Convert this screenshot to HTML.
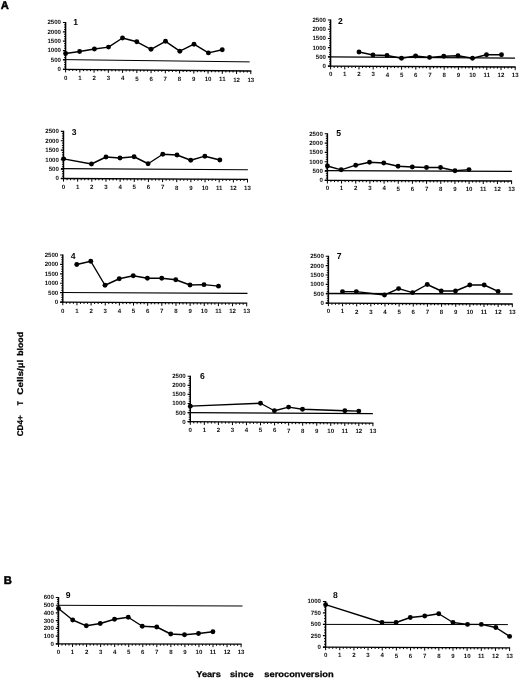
<!DOCTYPE html>
<html lang="en"><head><meta charset="utf-8"><title>CD4+ T cells per µl blood vs years since seroconversion</title>
<style>html,body{margin:0;padding:0;background:#fff}body{width:520px;height:679px;overflow:hidden}svg text{font-family:"Liberation Sans", sans-serif}</style>
</head><body>
<svg width="520" height="679" viewBox="0 0 520 679" style="display:block" text-rendering="geometricPrecision" font-family='"Liberation Sans", sans-serif' fill="#000">
<rect width="520" height="679" fill="#fff"/>
<g filter="url(#soft)">
<g><path d="M65.6 22V69.9" stroke="#000" stroke-width="1.45" fill="none"/><path d="M63 69.28L251.3 71" stroke="#000" stroke-width="1.3" fill="none"/><path d="M62.9 69.3H65.6M62.9 59.94H65.6M62.9 50.58H65.6M62.9 41.22H65.6M62.9 31.86H65.6M62.9 22.5H65.6" stroke="#000" stroke-width="1.2" fill="none"/><path d="M64 66.96H65.6M64 64.62H65.6M64 62.28H65.6M64 57.6H65.6M64 55.26H65.6M64 52.92H65.6M64 48.24H65.6M64 45.9H65.6M64 43.56H65.6M64 38.88H65.6M64 36.54H65.6M64 34.2H65.6M64 29.52H65.6M64 27.18H65.6M64 24.84H65.6" stroke="#000" stroke-width="0.9" fill="none"/><path d="M65.6 69.3v3.1M69.16 69.3v1.7M72.72 69.3v1.7M76.28 69.3v1.7M79.85 69.43v3.1M83.41 69.43v1.7M86.97 69.43v1.7M90.53 69.43v1.7M94.09 69.56v3.1M97.65 69.56v1.7M101.22 69.56v1.7M104.78 69.56v1.7M108.34 69.69v3.1M111.9 69.69v1.7M115.46 69.69v1.7M119.02 69.69v1.7M122.58 69.82v3.1M126.15 69.82v1.7M129.71 69.82v1.7M133.27 69.82v1.7M136.83 69.95v3.1M140.39 69.95v1.7M143.95 69.95v1.7M147.52 69.95v1.7M151.08 70.08v3.1M154.64 70.08v1.7M158.2 70.08v1.7M161.76 70.08v1.7M165.32 70.22v3.1M168.88 70.22v1.7M172.45 70.22v1.7M176.01 70.22v1.7M179.57 70.35v3.1M183.13 70.35v1.7M186.69 70.35v1.7M190.25 70.35v1.7M193.82 70.48v3.1M197.38 70.48v1.7M200.94 70.48v1.7M204.5 70.48v1.7M208.06 70.61v3.1M211.62 70.61v1.7M215.18 70.61v1.7M218.75 70.61v1.7M222.31 70.74v3.1M225.87 70.74v1.7M229.43 70.74v1.7M232.99 70.74v1.7M236.55 70.87v3.1M240.12 70.87v1.7M243.68 70.87v1.7M247.24 70.87v1.7M250.8 71v3.1" stroke="#000" stroke-width="1" fill="none"/><path d="M63.2 59.6L249.7 61.9" stroke="#000" stroke-width="1.0" fill="none"/><polyline points="65.6,53.5 79.6,51.5 94.4,49 108.5,47.1 122.5,38 136.8,41.8 151,49.3 165.5,41.3 179.8,51.2 194,44.2 208.4,52.9 222.25,49.75" stroke="#000" stroke-width="1.4" fill="none" stroke-linejoin="round"/><circle cx="65.6" cy="53.5" r="2.45"/><circle cx="79.6" cy="51.5" r="2.45"/><circle cx="94.4" cy="49" r="2.45"/><circle cx="108.5" cy="47.1" r="2.45"/><circle cx="122.5" cy="38" r="2.45"/><circle cx="136.8" cy="41.8" r="2.45"/><circle cx="151" cy="49.3" r="2.45"/><circle cx="165.5" cy="41.3" r="2.45"/><circle cx="179.8" cy="51.2" r="2.45"/><circle cx="194" cy="44.2" r="2.45"/><circle cx="208.4" cy="52.9" r="2.45"/><circle cx="222.25" cy="49.75" r="2.45"/><g font-weight="bold" fill="#111"><text transform="translate(61 71.2) scale(0.610)" font-size="10" text-anchor="end">0</text><text transform="translate(61 61.84) scale(0.610)" font-size="10" text-anchor="end">500</text><text transform="translate(61 52.48) scale(0.610)" font-size="10" text-anchor="end">1000</text><text transform="translate(61 43.12) scale(0.610)" font-size="10" text-anchor="end">1500</text><text transform="translate(61 33.76) scale(0.610)" font-size="10" text-anchor="end">2000</text><text transform="translate(61 24.4) scale(0.610)" font-size="10" text-anchor="end">2500</text><text transform="translate(65.6 79.9) scale(0.610)" font-size="10" text-anchor="middle">0</text><text transform="translate(79.85 80.04) scale(0.610)" font-size="10" text-anchor="middle">1</text><text transform="translate(94.09 80.18) scale(0.610)" font-size="10" text-anchor="middle">2</text><text transform="translate(108.34 80.32) scale(0.610)" font-size="10" text-anchor="middle">3</text><text transform="translate(122.58 80.45) scale(0.610)" font-size="10" text-anchor="middle">4</text><text transform="translate(136.83 80.59) scale(0.610)" font-size="10" text-anchor="middle">5</text><text transform="translate(151.08 80.73) scale(0.610)" font-size="10" text-anchor="middle">6</text><text transform="translate(165.32 80.87) scale(0.610)" font-size="10" text-anchor="middle">7</text><text transform="translate(179.57 81.01) scale(0.610)" font-size="10" text-anchor="middle">8</text><text transform="translate(193.82 81.15) scale(0.610)" font-size="10" text-anchor="middle">9</text><text transform="translate(208.06 81.28) scale(0.610)" font-size="10" text-anchor="middle">10</text><text transform="translate(222.31 81.42) scale(0.610)" font-size="10" text-anchor="middle">11</text><text transform="translate(236.55 81.56) scale(0.610)" font-size="10" text-anchor="middle">12</text><text transform="translate(250.8 81.7) scale(0.610)" font-size="10" text-anchor="middle">13</text></g><text transform="translate(73.2 25.2) scale(0.860)" font-size="10" text-anchor="start" font-weight="bold">1</text></g>
<g><path d="M330.6 19.5V66.8" stroke="#000" stroke-width="1.45" fill="none"/><path d="M328 66.19L515.7 67" stroke="#000" stroke-width="1.3" fill="none"/><path d="M327.9 66.2H330.6M327.9 56.96H330.6M327.9 47.72H330.6M327.9 38.48H330.6M327.9 29.24H330.6M327.9 20H330.6" stroke="#000" stroke-width="1.2" fill="none"/><path d="M329 63.89H330.6M329 61.58H330.6M329 59.27H330.6M329 54.65H330.6M329 52.34H330.6M329 50.03H330.6M329 45.41H330.6M329 43.1H330.6M329 40.79H330.6M329 36.17H330.6M329 33.86H330.6M329 31.55H330.6M329 26.93H330.6M329 24.62H330.6M329 22.31H330.6" stroke="#000" stroke-width="0.9" fill="none"/><path d="M330.6 66.2v3.1M334.15 66.2v1.7M337.7 66.2v1.7M341.25 66.2v1.7M344.8 66.26v3.1M348.35 66.26v1.7M351.9 66.26v1.7M355.45 66.26v1.7M359 66.32v3.1M362.55 66.32v1.7M366.1 66.32v1.7M369.65 66.32v1.7M373.2 66.38v3.1M376.75 66.38v1.7M380.3 66.38v1.7M383.85 66.38v1.7M387.4 66.45v3.1M390.95 66.45v1.7M394.5 66.45v1.7M398.05 66.45v1.7M401.6 66.51v3.1M405.15 66.51v1.7M408.7 66.51v1.7M412.25 66.51v1.7M415.8 66.57v3.1M419.35 66.57v1.7M422.9 66.57v1.7M426.45 66.57v1.7M430 66.63v3.1M433.55 66.63v1.7M437.1 66.63v1.7M440.65 66.63v1.7M444.2 66.69v3.1M447.75 66.69v1.7M451.3 66.69v1.7M454.85 66.69v1.7M458.4 66.75v3.1M461.95 66.75v1.7M465.5 66.75v1.7M469.05 66.75v1.7M472.6 66.82v3.1M476.15 66.82v1.7M479.7 66.82v1.7M483.25 66.82v1.7M486.8 66.88v3.1M490.35 66.88v1.7M493.9 66.88v1.7M497.45 66.88v1.7M501 66.94v3.1M504.55 66.94v1.7M508.1 66.94v1.7M511.65 66.94v1.7M515.2 67v3.1" stroke="#000" stroke-width="1" fill="none"/><path d="M328.2 56.8L515 58.1" stroke="#000" stroke-width="1.3" fill="none"/><polyline points="359,52 373,55 387,55.5 401.5,58.25 415.6,56 429.5,57.4 443.75,56.25 458,55.75 472.5,58.25 486.5,54.7 501.5,54.7" stroke="#000" stroke-width="1.4" fill="none" stroke-linejoin="round"/><circle cx="359" cy="52" r="2.45"/><circle cx="373" cy="55" r="2.45"/><circle cx="387" cy="55.5" r="2.45"/><circle cx="401.5" cy="58.25" r="2.45"/><circle cx="415.6" cy="56" r="2.45"/><circle cx="429.5" cy="57.4" r="2.45"/><circle cx="443.75" cy="56.25" r="2.45"/><circle cx="458" cy="55.75" r="2.45"/><circle cx="472.5" cy="58.25" r="2.45"/><circle cx="486.5" cy="54.7" r="2.45"/><circle cx="501.5" cy="54.7" r="2.45"/><g font-weight="bold" fill="#111"><text transform="translate(326 68.1) scale(0.610)" font-size="10" text-anchor="end">0</text><text transform="translate(326 58.86) scale(0.610)" font-size="10" text-anchor="end">500</text><text transform="translate(326 49.62) scale(0.610)" font-size="10" text-anchor="end">1000</text><text transform="translate(326 40.38) scale(0.610)" font-size="10" text-anchor="end">1500</text><text transform="translate(326 31.14) scale(0.610)" font-size="10" text-anchor="end">2000</text><text transform="translate(326 21.9) scale(0.610)" font-size="10" text-anchor="end">2500</text><text transform="translate(330.6 76.4) scale(0.610)" font-size="10" text-anchor="middle">0</text><text transform="translate(344.8 76.43) scale(0.610)" font-size="10" text-anchor="middle">1</text><text transform="translate(359 76.46) scale(0.610)" font-size="10" text-anchor="middle">2</text><text transform="translate(373.2 76.49) scale(0.610)" font-size="10" text-anchor="middle">3</text><text transform="translate(387.4 76.52) scale(0.610)" font-size="10" text-anchor="middle">4</text><text transform="translate(401.6 76.55) scale(0.610)" font-size="10" text-anchor="middle">5</text><text transform="translate(415.8 76.58) scale(0.610)" font-size="10" text-anchor="middle">6</text><text transform="translate(430 76.62) scale(0.610)" font-size="10" text-anchor="middle">7</text><text transform="translate(444.2 76.65) scale(0.610)" font-size="10" text-anchor="middle">8</text><text transform="translate(458.4 76.68) scale(0.610)" font-size="10" text-anchor="middle">9</text><text transform="translate(472.6 76.71) scale(0.610)" font-size="10" text-anchor="middle">10</text><text transform="translate(486.8 76.74) scale(0.610)" font-size="10" text-anchor="middle">11</text><text transform="translate(501 76.77) scale(0.610)" font-size="10" text-anchor="middle">12</text><text transform="translate(515.2 76.8) scale(0.610)" font-size="10" text-anchor="middle">13</text></g><text transform="translate(338 23.9) scale(0.860)" font-size="10" text-anchor="start" font-weight="bold">2</text></g>
<g><path d="M63.5 130.8V179.1" stroke="#000" stroke-width="1.45" fill="none"/><path d="M60.9 178.49L248 179.4" stroke="#000" stroke-width="1.3" fill="none"/><path d="M60.8 178.5H63.5M60.8 169.06H63.5M60.8 159.62H63.5M60.8 150.18H63.5M60.8 140.74H63.5M60.8 131.3H63.5" stroke="#000" stroke-width="1.2" fill="none"/><path d="M61.9 176.14H63.5M61.9 173.78H63.5M61.9 171.42H63.5M61.9 166.7H63.5M61.9 164.34H63.5M61.9 161.98H63.5M61.9 157.26H63.5M61.9 154.9H63.5M61.9 152.54H63.5M61.9 147.82H63.5M61.9 145.46H63.5M61.9 143.1H63.5M61.9 138.38H63.5M61.9 136.02H63.5M61.9 133.66H63.5" stroke="#000" stroke-width="0.9" fill="none"/><path d="M63.5 178.5v3.1M67.04 178.5v1.7M70.58 178.5v1.7M74.12 178.5v1.7M77.65 178.57v3.1M81.19 178.57v1.7M84.73 178.57v1.7M88.27 178.57v1.7M91.81 178.64v3.1M95.35 178.64v1.7M98.88 178.64v1.7M102.42 178.64v1.7M105.96 178.71v3.1M109.5 178.71v1.7M113.04 178.71v1.7M116.58 178.71v1.7M120.12 178.78v3.1M123.65 178.78v1.7M127.19 178.78v1.7M130.73 178.78v1.7M134.27 178.85v3.1M137.81 178.85v1.7M141.35 178.85v1.7M144.88 178.85v1.7M148.42 178.92v3.1M151.96 178.92v1.7M155.5 178.92v1.7M159.04 178.92v1.7M162.58 178.98v3.1M166.12 178.98v1.7M169.65 178.98v1.7M173.19 178.98v1.7M176.73 179.05v3.1M180.27 179.05v1.7M183.81 179.05v1.7M187.35 179.05v1.7M190.88 179.12v3.1M194.42 179.12v1.7M197.96 179.12v1.7M201.5 179.12v1.7M205.04 179.19v3.1M208.58 179.19v1.7M212.12 179.19v1.7M215.65 179.19v1.7M219.19 179.26v3.1M222.73 179.26v1.7M226.27 179.26v1.7M229.81 179.26v1.7M233.35 179.33v3.1M236.88 179.33v1.7M240.42 179.33v1.7M243.96 179.33v1.7M247.5 179.4v3.1" stroke="#000" stroke-width="1" fill="none"/><path d="M61 168.65L247.9 169.8" stroke="#000" stroke-width="1.1" fill="none"/><polyline points="63.6,158.85 91.5,164 106,157 120,158 134.1,156.75 148.1,163.75 162.75,154.25 177,155 190.75,160.25 204.85,156.2 219.85,160" stroke="#000" stroke-width="1.4" fill="none" stroke-linejoin="round"/><circle cx="63.6" cy="158.85" r="2.45"/><circle cx="91.5" cy="164" r="2.45"/><circle cx="106" cy="157" r="2.45"/><circle cx="120" cy="158" r="2.45"/><circle cx="134.1" cy="156.75" r="2.45"/><circle cx="148.1" cy="163.75" r="2.45"/><circle cx="162.75" cy="154.25" r="2.45"/><circle cx="177" cy="155" r="2.45"/><circle cx="190.75" cy="160.25" r="2.45"/><circle cx="204.85" cy="156.2" r="2.45"/><circle cx="219.85" cy="160" r="2.45"/><g font-weight="bold" fill="#111"><text transform="translate(58.9 180.4) scale(0.610)" font-size="10" text-anchor="end">0</text><text transform="translate(58.9 170.96) scale(0.610)" font-size="10" text-anchor="end">500</text><text transform="translate(58.9 161.52) scale(0.610)" font-size="10" text-anchor="end">1000</text><text transform="translate(58.9 152.08) scale(0.610)" font-size="10" text-anchor="end">1500</text><text transform="translate(58.9 142.64) scale(0.610)" font-size="10" text-anchor="end">2000</text><text transform="translate(58.9 133.2) scale(0.610)" font-size="10" text-anchor="end">2500</text><text transform="translate(63.5 188.5) scale(0.610)" font-size="10" text-anchor="middle">0</text><text transform="translate(77.65 188.63) scale(0.610)" font-size="10" text-anchor="middle">1</text><text transform="translate(91.81 188.76) scale(0.610)" font-size="10" text-anchor="middle">2</text><text transform="translate(105.96 188.89) scale(0.610)" font-size="10" text-anchor="middle">3</text><text transform="translate(120.12 189.02) scale(0.610)" font-size="10" text-anchor="middle">4</text><text transform="translate(134.27 189.15) scale(0.610)" font-size="10" text-anchor="middle">5</text><text transform="translate(148.42 189.28) scale(0.610)" font-size="10" text-anchor="middle">6</text><text transform="translate(162.58 189.42) scale(0.610)" font-size="10" text-anchor="middle">7</text><text transform="translate(176.73 189.55) scale(0.610)" font-size="10" text-anchor="middle">8</text><text transform="translate(190.88 189.68) scale(0.610)" font-size="10" text-anchor="middle">9</text><text transform="translate(205.04 189.81) scale(0.610)" font-size="10" text-anchor="middle">10</text><text transform="translate(219.19 189.94) scale(0.610)" font-size="10" text-anchor="middle">11</text><text transform="translate(233.35 190.07) scale(0.610)" font-size="10" text-anchor="middle">12</text><text transform="translate(247.5 190.2) scale(0.610)" font-size="10" text-anchor="middle">13</text></g><text transform="translate(71.7 135.2) scale(0.860)" font-size="10" text-anchor="start" font-weight="bold">3</text></g>
<g><path d="M327.4 133.25V181" stroke="#000" stroke-width="1.45" fill="none"/><path d="M324.8 180.39L512.1 181" stroke="#000" stroke-width="1.3" fill="none"/><path d="M324.7 180.4H327.4M324.7 171.07H327.4M324.7 161.74H327.4M324.7 152.41H327.4M324.7 143.08H327.4M324.7 133.75H327.4" stroke="#000" stroke-width="1.2" fill="none"/><path d="M325.8 178.07H327.4M325.8 175.74H327.4M325.8 173.4H327.4M325.8 168.74H327.4M325.8 166.41H327.4M325.8 164.07H327.4M325.8 159.41H327.4M325.8 157.07H327.4M325.8 154.74H327.4M325.8 150.08H327.4M325.8 147.75H327.4M325.8 145.41H327.4M325.8 140.75H327.4M325.8 138.42H327.4M325.8 136.08H327.4" stroke="#000" stroke-width="0.9" fill="none"/><path d="M327.4 180.4v3.1M330.94 180.4v1.7M334.48 180.4v1.7M338.03 180.4v1.7M341.57 180.45v3.1M345.11 180.45v1.7M348.65 180.45v1.7M352.2 180.45v1.7M355.74 180.49v3.1M359.28 180.49v1.7M362.82 180.49v1.7M366.37 180.49v1.7M369.91 180.54v3.1M373.45 180.54v1.7M376.99 180.54v1.7M380.53 180.54v1.7M384.08 180.58v3.1M387.62 180.58v1.7M391.16 180.58v1.7M394.7 180.58v1.7M398.25 180.63v3.1M401.79 180.63v1.7M405.33 180.63v1.7M408.87 180.63v1.7M412.42 180.68v3.1M415.96 180.68v1.7M419.5 180.68v1.7M423.04 180.68v1.7M426.58 180.72v3.1M430.13 180.72v1.7M433.67 180.72v1.7M437.21 180.72v1.7M440.75 180.77v3.1M444.3 180.77v1.7M447.84 180.77v1.7M451.38 180.77v1.7M454.92 180.82v3.1M458.47 180.82v1.7M462.01 180.82v1.7M465.55 180.82v1.7M469.09 180.86v3.1M472.63 180.86v1.7M476.18 180.86v1.7M479.72 180.86v1.7M483.26 180.91v3.1M486.8 180.91v1.7M490.35 180.91v1.7M493.89 180.91v1.7M497.43 180.95v3.1M500.97 180.95v1.7M504.52 180.95v1.7M508.06 180.95v1.7M511.6 181v3.1" stroke="#000" stroke-width="1" fill="none"/><path d="M325 170.6L511.9 171.3" stroke="#000" stroke-width="1.2" fill="none"/><polyline points="327.4,166 341.2,169.8 355.7,165.2 369.5,162.25 383.75,163 398.1,166.25 412.3,167 426.5,167.5 440.5,167.5 455,170.75 469,169.6" stroke="#000" stroke-width="1.4" fill="none" stroke-linejoin="round"/><circle cx="327.4" cy="166" r="2.45"/><circle cx="341.2" cy="169.8" r="2.45"/><circle cx="355.7" cy="165.2" r="2.45"/><circle cx="369.5" cy="162.25" r="2.45"/><circle cx="383.75" cy="163" r="2.45"/><circle cx="398.1" cy="166.25" r="2.45"/><circle cx="412.3" cy="167" r="2.45"/><circle cx="426.5" cy="167.5" r="2.45"/><circle cx="440.5" cy="167.5" r="2.45"/><circle cx="455" cy="170.75" r="2.45"/><circle cx="469" cy="169.6" r="2.45"/><g font-weight="bold" fill="#111"><text transform="translate(322.8 182.3) scale(0.610)" font-size="10" text-anchor="end">0</text><text transform="translate(322.8 172.97) scale(0.610)" font-size="10" text-anchor="end">500</text><text transform="translate(322.8 163.64) scale(0.610)" font-size="10" text-anchor="end">1000</text><text transform="translate(322.8 154.31) scale(0.610)" font-size="10" text-anchor="end">1500</text><text transform="translate(322.8 144.98) scale(0.610)" font-size="10" text-anchor="end">2000</text><text transform="translate(322.8 135.65) scale(0.610)" font-size="10" text-anchor="end">2500</text><text transform="translate(327.4 190.3) scale(0.610)" font-size="10" text-anchor="middle">0</text><text transform="translate(341.57 190.35) scale(0.610)" font-size="10" text-anchor="middle">1</text><text transform="translate(355.74 190.39) scale(0.610)" font-size="10" text-anchor="middle">2</text><text transform="translate(369.91 190.44) scale(0.610)" font-size="10" text-anchor="middle">3</text><text transform="translate(384.08 190.48) scale(0.610)" font-size="10" text-anchor="middle">4</text><text transform="translate(398.25 190.53) scale(0.610)" font-size="10" text-anchor="middle">5</text><text transform="translate(412.42 190.58) scale(0.610)" font-size="10" text-anchor="middle">6</text><text transform="translate(426.58 190.62) scale(0.610)" font-size="10" text-anchor="middle">7</text><text transform="translate(440.75 190.67) scale(0.610)" font-size="10" text-anchor="middle">8</text><text transform="translate(454.92 190.72) scale(0.610)" font-size="10" text-anchor="middle">9</text><text transform="translate(469.09 190.76) scale(0.610)" font-size="10" text-anchor="middle">10</text><text transform="translate(483.26 190.81) scale(0.610)" font-size="10" text-anchor="middle">11</text><text transform="translate(497.43 190.85) scale(0.610)" font-size="10" text-anchor="middle">12</text><text transform="translate(511.6 190.9) scale(0.610)" font-size="10" text-anchor="middle">13</text></g><text transform="translate(336.2 135.7) scale(0.860)" font-size="10" text-anchor="start" font-weight="bold">5</text></g>
<g><path d="M62.8 254.5V302.7" stroke="#000" stroke-width="1.45" fill="none"/><path d="M60.2 302.08L247.2 303.2" stroke="#000" stroke-width="1.3" fill="none"/><path d="M60.1 302.1H62.8M60.1 292.68H62.8M60.1 283.26H62.8M60.1 273.84H62.8M60.1 264.42H62.8M60.1 255H62.8" stroke="#000" stroke-width="1.2" fill="none"/><path d="M61.2 299.75H62.8M61.2 297.39H62.8M61.2 295.04H62.8M61.2 290.33H62.8M61.2 287.97H62.8M61.2 285.62H62.8M61.2 280.91H62.8M61.2 278.55H62.8M61.2 276.19H62.8M61.2 271.49H62.8M61.2 269.13H62.8M61.2 266.77H62.8M61.2 262.06H62.8M61.2 259.71H62.8M61.2 257.36H62.8" stroke="#000" stroke-width="0.9" fill="none"/><path d="M62.8 302.1v3.1M66.34 302.1v1.7M69.87 302.1v1.7M73.41 302.1v1.7M76.95 302.18v3.1M80.48 302.18v1.7M84.02 302.18v1.7M87.56 302.18v1.7M91.09 302.27v3.1M94.63 302.27v1.7M98.17 302.27v1.7M101.7 302.27v1.7M105.24 302.35v3.1M108.77 302.35v1.7M112.31 302.35v1.7M115.85 302.35v1.7M119.38 302.44v3.1M122.92 302.44v1.7M126.46 302.44v1.7M129.99 302.44v1.7M133.53 302.52v3.1M137.07 302.52v1.7M140.6 302.52v1.7M144.14 302.52v1.7M147.68 302.61v3.1M151.21 302.61v1.7M154.75 302.61v1.7M158.29 302.61v1.7M161.82 302.69v3.1M165.36 302.69v1.7M168.9 302.69v1.7M172.43 302.69v1.7M175.97 302.78v3.1M179.51 302.78v1.7M183.04 302.78v1.7M186.58 302.78v1.7M190.12 302.86v3.1M193.65 302.86v1.7M197.19 302.86v1.7M200.72 302.86v1.7M204.26 302.95v3.1M207.8 302.95v1.7M211.33 302.95v1.7M214.87 302.95v1.7M218.41 303.03v3.1M221.94 303.03v1.7M225.48 303.03v1.7M229.02 303.03v1.7M232.55 303.12v3.1M236.09 303.12v1.7M239.63 303.12v1.7M243.16 303.12v1.7M246.7 303.2v3.1" stroke="#000" stroke-width="1" fill="none"/><path d="M60.1 292.5L247.5 293.4" stroke="#000" stroke-width="1.2" fill="none"/><polyline points="76.75,264.5 90.75,261.25 105,285.25 119.25,278.75 133.25,275.75 147.4,278.25 161.75,278.25 175.75,279.75 190,285 204,284.65 218.5,286.15" stroke="#000" stroke-width="1.4" fill="none" stroke-linejoin="round"/><circle cx="76.75" cy="264.5" r="2.45"/><circle cx="90.75" cy="261.25" r="2.45"/><circle cx="105" cy="285.25" r="2.45"/><circle cx="119.25" cy="278.75" r="2.45"/><circle cx="133.25" cy="275.75" r="2.45"/><circle cx="147.4" cy="278.25" r="2.45"/><circle cx="161.75" cy="278.25" r="2.45"/><circle cx="175.75" cy="279.75" r="2.45"/><circle cx="190" cy="285" r="2.45"/><circle cx="204" cy="284.65" r="2.45"/><circle cx="218.5" cy="286.15" r="2.45"/><g font-weight="bold" fill="#111"><text transform="translate(58.2 304) scale(0.610)" font-size="10" text-anchor="end">0</text><text transform="translate(58.2 294.58) scale(0.610)" font-size="10" text-anchor="end">500</text><text transform="translate(58.2 285.16) scale(0.610)" font-size="10" text-anchor="end">1000</text><text transform="translate(58.2 275.74) scale(0.610)" font-size="10" text-anchor="end">1500</text><text transform="translate(58.2 266.32) scale(0.610)" font-size="10" text-anchor="end">2000</text><text transform="translate(58.2 256.9) scale(0.610)" font-size="10" text-anchor="end">2500</text><text transform="translate(62.8 312.8) scale(0.610)" font-size="10" text-anchor="middle">0</text><text transform="translate(76.95 312.85) scale(0.610)" font-size="10" text-anchor="middle">1</text><text transform="translate(91.09 312.9) scale(0.610)" font-size="10" text-anchor="middle">2</text><text transform="translate(105.24 312.95) scale(0.610)" font-size="10" text-anchor="middle">3</text><text transform="translate(119.38 313) scale(0.610)" font-size="10" text-anchor="middle">4</text><text transform="translate(133.53 313.05) scale(0.610)" font-size="10" text-anchor="middle">5</text><text transform="translate(147.68 313.1) scale(0.610)" font-size="10" text-anchor="middle">6</text><text transform="translate(161.82 313.15) scale(0.610)" font-size="10" text-anchor="middle">7</text><text transform="translate(175.97 313.2) scale(0.610)" font-size="10" text-anchor="middle">8</text><text transform="translate(190.12 313.25) scale(0.610)" font-size="10" text-anchor="middle">9</text><text transform="translate(204.26 313.3) scale(0.610)" font-size="10" text-anchor="middle">10</text><text transform="translate(218.41 313.35) scale(0.610)" font-size="10" text-anchor="middle">11</text><text transform="translate(232.55 313.4) scale(0.610)" font-size="10" text-anchor="middle">12</text><text transform="translate(246.7 313.45) scale(0.610)" font-size="10" text-anchor="middle">13</text></g><text transform="translate(70.7 258.9) scale(0.860)" font-size="10" text-anchor="start" font-weight="bold">4</text></g>
<g><path d="M328.4 255.75V303.7" stroke="#000" stroke-width="1.45" fill="none"/><path d="M325.8 303.09L512.8 304" stroke="#000" stroke-width="1.3" fill="none"/><path d="M325.7 303.1H328.4M325.7 293.73H328.4M325.7 284.36H328.4M325.7 274.99H328.4M325.7 265.62H328.4M325.7 256.25H328.4" stroke="#000" stroke-width="1.2" fill="none"/><path d="M326.8 300.76H328.4M326.8 298.42H328.4M326.8 296.07H328.4M326.8 291.39H328.4M326.8 289.05H328.4M326.8 286.7H328.4M326.8 282.02H328.4M326.8 279.68H328.4M326.8 277.33H328.4M326.8 272.65H328.4M326.8 270.31H328.4M326.8 267.96H328.4M326.8 263.28H328.4M326.8 260.94H328.4M326.8 258.59H328.4" stroke="#000" stroke-width="0.9" fill="none"/><path d="M328.4 303.1v3.1M331.94 303.1v1.7M335.47 303.1v1.7M339.01 303.1v1.7M342.55 303.17v3.1M346.08 303.17v1.7M349.62 303.17v1.7M353.16 303.17v1.7M356.69 303.24v3.1M360.23 303.24v1.7M363.77 303.24v1.7M367.3 303.24v1.7M370.84 303.31v3.1M374.37 303.31v1.7M377.91 303.31v1.7M381.45 303.31v1.7M384.98 303.38v3.1M388.52 303.38v1.7M392.06 303.38v1.7M395.59 303.38v1.7M399.13 303.45v3.1M402.67 303.45v1.7M406.2 303.45v1.7M409.74 303.45v1.7M413.28 303.52v3.1M416.81 303.52v1.7M420.35 303.52v1.7M423.89 303.52v1.7M427.42 303.58v3.1M430.96 303.58v1.7M434.5 303.58v1.7M438.03 303.58v1.7M441.57 303.65v3.1M445.11 303.65v1.7M448.64 303.65v1.7M452.18 303.65v1.7M455.72 303.72v3.1M459.25 303.72v1.7M462.79 303.72v1.7M466.32 303.72v1.7M469.86 303.79v3.1M473.4 303.79v1.7M476.93 303.79v1.7M480.47 303.79v1.7M484.01 303.86v3.1M487.54 303.86v1.7M491.08 303.86v1.7M494.62 303.86v1.7M498.15 303.93v3.1M501.69 303.93v1.7M505.23 303.93v1.7M508.76 303.93v1.7M512.3 304v3.1" stroke="#000" stroke-width="1" fill="none"/><path d="M326 293.4L512.5 293.9" stroke="#000" stroke-width="1.5" fill="none"/><polyline points="342.5,291.6 356.3,291.6 384.5,295 398.6,288.6 412.6,292.6 427.25,284.5 441.25,291 455.5,291 469.8,285 484.2,285 498.1,291.35" stroke="#000" stroke-width="1.4" fill="none" stroke-linejoin="round"/><circle cx="342.5" cy="291.6" r="2.45"/><circle cx="356.3" cy="291.6" r="2.45"/><circle cx="384.5" cy="295" r="2.45"/><circle cx="398.6" cy="288.6" r="2.45"/><circle cx="412.6" cy="292.6" r="2.45"/><circle cx="427.25" cy="284.5" r="2.45"/><circle cx="441.25" cy="291" r="2.45"/><circle cx="455.5" cy="291" r="2.45"/><circle cx="469.8" cy="285" r="2.45"/><circle cx="484.2" cy="285" r="2.45"/><circle cx="498.1" cy="291.35" r="2.45"/><g font-weight="bold" fill="#111"><text transform="translate(323.8 305) scale(0.610)" font-size="10" text-anchor="end">0</text><text transform="translate(323.8 295.63) scale(0.610)" font-size="10" text-anchor="end">500</text><text transform="translate(323.8 286.26) scale(0.610)" font-size="10" text-anchor="end">1000</text><text transform="translate(323.8 276.89) scale(0.610)" font-size="10" text-anchor="end">1500</text><text transform="translate(323.8 267.52) scale(0.610)" font-size="10" text-anchor="end">2000</text><text transform="translate(323.8 258.15) scale(0.610)" font-size="10" text-anchor="end">2500</text><text transform="translate(328.4 313.45) scale(0.610)" font-size="10" text-anchor="middle">0</text><text transform="translate(342.55 313.49) scale(0.610)" font-size="10" text-anchor="middle">1</text><text transform="translate(356.69 313.53) scale(0.610)" font-size="10" text-anchor="middle">2</text><text transform="translate(370.84 313.58) scale(0.610)" font-size="10" text-anchor="middle">3</text><text transform="translate(384.98 313.62) scale(0.610)" font-size="10" text-anchor="middle">4</text><text transform="translate(399.13 313.66) scale(0.610)" font-size="10" text-anchor="middle">5</text><text transform="translate(413.28 313.7) scale(0.610)" font-size="10" text-anchor="middle">6</text><text transform="translate(427.42 313.75) scale(0.610)" font-size="10" text-anchor="middle">7</text><text transform="translate(441.57 313.79) scale(0.610)" font-size="10" text-anchor="middle">8</text><text transform="translate(455.72 313.83) scale(0.610)" font-size="10" text-anchor="middle">9</text><text transform="translate(469.86 313.87) scale(0.610)" font-size="10" text-anchor="middle">10</text><text transform="translate(484.01 313.92) scale(0.610)" font-size="10" text-anchor="middle">11</text><text transform="translate(498.15 313.96) scale(0.610)" font-size="10" text-anchor="middle">12</text><text transform="translate(512.3 314) scale(0.610)" font-size="10" text-anchor="middle">13</text></g><text transform="translate(336.7 259.4) scale(0.860)" font-size="10" text-anchor="start" font-weight="bold">7</text></g>
<g><path d="M190.3 375.75V422.3" stroke="#000" stroke-width="1.45" fill="none"/><path d="M187.7 421.68L373.4 423.1" stroke="#000" stroke-width="1.3" fill="none"/><path d="M187.6 421.7H190.3M187.6 412.61H190.3M187.6 403.52H190.3M187.6 394.43H190.3M187.6 385.34H190.3M187.6 376.25H190.3" stroke="#000" stroke-width="1.2" fill="none"/><path d="M188.7 419.43H190.3M188.7 417.15H190.3M188.7 414.88H190.3M188.7 410.34H190.3M188.7 408.06H190.3M188.7 405.79H190.3M188.7 401.25H190.3M188.7 398.98H190.3M188.7 396.7H190.3M188.7 392.16H190.3M188.7 389.88H190.3M188.7 387.61H190.3M188.7 383.07H190.3M188.7 380.8H190.3M188.7 378.52H190.3" stroke="#000" stroke-width="0.9" fill="none"/><path d="M190.3 421.7v3.1M193.81 421.7v1.7M197.32 421.7v1.7M200.83 421.7v1.7M204.35 421.81v3.1M207.86 421.81v1.7M211.37 421.81v1.7M214.88 421.81v1.7M218.39 421.92v3.1M221.9 421.92v1.7M225.42 421.92v1.7M228.93 421.92v1.7M232.44 422.02v3.1M235.95 422.02v1.7M239.46 422.02v1.7M242.97 422.02v1.7M246.48 422.13v3.1M250 422.13v1.7M253.51 422.13v1.7M257.02 422.13v1.7M260.53 422.24v3.1M264.04 422.24v1.7M267.55 422.24v1.7M271.07 422.24v1.7M274.58 422.35v3.1M278.09 422.35v1.7M281.6 422.35v1.7M285.11 422.35v1.7M288.62 422.45v3.1M292.13 422.45v1.7M295.65 422.45v1.7M299.16 422.45v1.7M302.67 422.56v3.1M306.18 422.56v1.7M309.69 422.56v1.7M313.2 422.56v1.7M316.72 422.67v3.1M320.23 422.67v1.7M323.74 422.67v1.7M327.25 422.67v1.7M330.76 422.78v3.1M334.27 422.78v1.7M337.78 422.78v1.7M341.3 422.78v1.7M344.81 422.88v3.1M348.32 422.88v1.7M351.83 422.88v1.7M355.34 422.88v1.7M358.85 422.99v3.1M362.37 422.99v1.7M365.88 422.99v1.7M369.39 422.99v1.7M372.9 423.1v3.1" stroke="#000" stroke-width="1" fill="none"/><path d="M187.8 412.7L372.9 413.65" stroke="#000" stroke-width="1.3" fill="none"/><polyline points="190.3,406.15 260.5,403.25 274.4,410.75 288.6,407.1 302.5,409.25 344.85,410.8 358.8,411.1" stroke="#000" stroke-width="1.4" fill="none" stroke-linejoin="round"/><circle cx="190.3" cy="406.15" r="2.45"/><circle cx="260.5" cy="403.25" r="2.45"/><circle cx="274.4" cy="410.75" r="2.45"/><circle cx="288.6" cy="407.1" r="2.45"/><circle cx="302.5" cy="409.25" r="2.45"/><circle cx="344.85" cy="410.8" r="2.45"/><circle cx="358.8" cy="411.1" r="2.45"/><g font-weight="bold" fill="#111"><text transform="translate(185.7 423.6) scale(0.610)" font-size="10" text-anchor="end">0</text><text transform="translate(185.7 414.51) scale(0.610)" font-size="10" text-anchor="end">500</text><text transform="translate(185.7 405.42) scale(0.610)" font-size="10" text-anchor="end">1000</text><text transform="translate(185.7 396.33) scale(0.610)" font-size="10" text-anchor="end">1500</text><text transform="translate(185.7 387.24) scale(0.610)" font-size="10" text-anchor="end">2000</text><text transform="translate(185.7 378.15) scale(0.610)" font-size="10" text-anchor="end">2500</text><text transform="translate(190.3 432.1) scale(0.610)" font-size="10" text-anchor="middle">0</text><text transform="translate(204.35 432.16) scale(0.610)" font-size="10" text-anchor="middle">1</text><text transform="translate(218.39 432.22) scale(0.610)" font-size="10" text-anchor="middle">2</text><text transform="translate(232.44 432.28) scale(0.610)" font-size="10" text-anchor="middle">3</text><text transform="translate(246.48 432.35) scale(0.610)" font-size="10" text-anchor="middle">4</text><text transform="translate(260.53 432.41) scale(0.610)" font-size="10" text-anchor="middle">5</text><text transform="translate(274.58 432.47) scale(0.610)" font-size="10" text-anchor="middle">6</text><text transform="translate(288.62 432.53) scale(0.610)" font-size="10" text-anchor="middle">7</text><text transform="translate(302.67 432.59) scale(0.610)" font-size="10" text-anchor="middle">8</text><text transform="translate(316.72 432.65) scale(0.610)" font-size="10" text-anchor="middle">9</text><text transform="translate(330.76 432.72) scale(0.610)" font-size="10" text-anchor="middle">10</text><text transform="translate(344.81 432.78) scale(0.610)" font-size="10" text-anchor="middle">11</text><text transform="translate(358.85 432.84) scale(0.610)" font-size="10" text-anchor="middle">12</text><text transform="translate(372.9 432.9) scale(0.610)" font-size="10" text-anchor="middle">13</text></g><text transform="translate(200 379.4) scale(0.860)" font-size="10" text-anchor="start" font-weight="bold">6</text></g>
<g><path d="M58.5 597V644.5" stroke="#000" stroke-width="1.45" fill="none"/><path d="M55.9 643.9L241.6 644.1" stroke="#000" stroke-width="1.3" fill="none"/><path d="M55.8 643.9H58.5M55.8 636.17H58.5M55.8 628.43H58.5M55.8 620.7H58.5M55.8 612.97H58.5M55.8 605.23H58.5M55.8 597.5H58.5" stroke="#000" stroke-width="1.2" fill="none"/><path d="M56.9 641.97H58.5M56.9 640.03H58.5M56.9 638.1H58.5M56.9 634.23H58.5M56.9 632.3H58.5M56.9 630.37H58.5M56.9 626.5H58.5M56.9 624.57H58.5M56.9 622.63H58.5M56.9 618.77H58.5M56.9 616.83H58.5M56.9 614.9H58.5M56.9 611.03H58.5M56.9 609.1H58.5M56.9 607.17H58.5M56.9 603.3H58.5M56.9 601.37H58.5M56.9 599.43H58.5" stroke="#000" stroke-width="0.9" fill="none"/><path d="M58.5 643.9v3.1M62.01 643.9v1.7M65.52 643.9v1.7M69.03 643.9v1.7M72.55 643.92v3.1M76.06 643.92v1.7M79.57 643.92v1.7M83.08 643.92v1.7M86.59 643.93v3.1M90.1 643.93v1.7M93.62 643.93v1.7M97.13 643.93v1.7M100.64 643.95v3.1M104.15 643.95v1.7M107.66 643.95v1.7M111.17 643.95v1.7M114.68 643.96v3.1M118.2 643.96v1.7M121.71 643.96v1.7M125.22 643.96v1.7M128.73 643.98v3.1M132.24 643.98v1.7M135.75 643.98v1.7M139.27 643.98v1.7M142.78 643.99v3.1M146.29 643.99v1.7M149.8 643.99v1.7M153.31 643.99v1.7M156.82 644.01v3.1M160.33 644.01v1.7M163.85 644.01v1.7M167.36 644.01v1.7M170.87 644.02v3.1M174.38 644.02v1.7M177.89 644.02v1.7M181.4 644.02v1.7M184.92 644.04v3.1M188.43 644.04v1.7M191.94 644.04v1.7M195.45 644.04v1.7M198.96 644.05v3.1M202.47 644.05v1.7M205.98 644.05v1.7M209.5 644.05v1.7M213.01 644.07v3.1M216.52 644.07v1.7M220.03 644.07v1.7M223.54 644.07v1.7M227.05 644.08v3.1M230.57 644.08v1.7M234.08 644.08v1.7M237.59 644.08v1.7M241.1 644.1v3.1" stroke="#000" stroke-width="1" fill="none"/><path d="M58.5 605.3L242.5 606" stroke="#000" stroke-width="1.0" fill="none"/><polyline points="58.5,608.5 72.7,620 86.3,625.8 100.25,623.5 114.5,619.25 128.25,617.25 142.25,626.25 156.75,627 170.75,634 184.5,634.75 198.5,633.5 212.9,631.7" stroke="#000" stroke-width="1.4" fill="none" stroke-linejoin="round"/><circle cx="58.5" cy="608.5" r="2.45"/><circle cx="72.7" cy="620" r="2.45"/><circle cx="86.3" cy="625.8" r="2.45"/><circle cx="100.25" cy="623.5" r="2.45"/><circle cx="114.5" cy="619.25" r="2.45"/><circle cx="128.25" cy="617.25" r="2.45"/><circle cx="142.25" cy="626.25" r="2.45"/><circle cx="156.75" cy="627" r="2.45"/><circle cx="170.75" cy="634" r="2.45"/><circle cx="184.5" cy="634.75" r="2.45"/><circle cx="198.5" cy="633.5" r="2.45"/><circle cx="212.9" cy="631.7" r="2.45"/><g font-weight="bold" fill="#111"><text transform="translate(53.9 645.8) scale(0.610)" font-size="10" text-anchor="end">0</text><text transform="translate(53.9 638.07) scale(0.610)" font-size="10" text-anchor="end">100</text><text transform="translate(53.9 630.33) scale(0.610)" font-size="10" text-anchor="end">200</text><text transform="translate(53.9 622.6) scale(0.610)" font-size="10" text-anchor="end">300</text><text transform="translate(53.9 614.87) scale(0.610)" font-size="10" text-anchor="end">400</text><text transform="translate(53.9 607.13) scale(0.610)" font-size="10" text-anchor="end">500</text><text transform="translate(53.9 599.4) scale(0.610)" font-size="10" text-anchor="end">600</text><text transform="translate(58.5 654.2) scale(0.610)" font-size="10" text-anchor="middle">0</text><text transform="translate(72.55 654.22) scale(0.610)" font-size="10" text-anchor="middle">1</text><text transform="translate(86.59 654.23) scale(0.610)" font-size="10" text-anchor="middle">2</text><text transform="translate(100.64 654.25) scale(0.610)" font-size="10" text-anchor="middle">3</text><text transform="translate(114.68 654.26) scale(0.610)" font-size="10" text-anchor="middle">4</text><text transform="translate(128.73 654.28) scale(0.610)" font-size="10" text-anchor="middle">5</text><text transform="translate(142.78 654.29) scale(0.610)" font-size="10" text-anchor="middle">6</text><text transform="translate(156.82 654.31) scale(0.610)" font-size="10" text-anchor="middle">7</text><text transform="translate(170.87 654.32) scale(0.610)" font-size="10" text-anchor="middle">8</text><text transform="translate(184.92 654.34) scale(0.610)" font-size="10" text-anchor="middle">9</text><text transform="translate(198.96 654.35) scale(0.610)" font-size="10" text-anchor="middle">10</text><text transform="translate(213.01 654.37) scale(0.610)" font-size="10" text-anchor="middle">11</text><text transform="translate(227.05 654.38) scale(0.610)" font-size="10" text-anchor="middle">12</text><text transform="translate(241.1 654.4) scale(0.610)" font-size="10" text-anchor="middle">13</text></g><text transform="translate(65.7 598.1) scale(0.860)" font-size="10" text-anchor="start" font-weight="bold">9</text></g>
<g><path d="M325.6 601V647.7" stroke="#000" stroke-width="1.45" fill="none"/><path d="M323 647.09L510.1 647.9" stroke="#000" stroke-width="1.3" fill="none"/><path d="M322.9 647.1H325.6M322.9 635.7H325.6M322.9 624.3H325.6M322.9 612.9H325.6M322.9 601.5H325.6" stroke="#000" stroke-width="1.2" fill="none"/><path d="M324 644.25H325.6M324 641.4H325.6M324 638.55H325.6M324 632.85H325.6M324 630H325.6M324 627.15H325.6M324 621.45H325.6M324 618.6H325.6M324 615.75H325.6M324 610.05H325.6M324 607.2H325.6M324 604.35H325.6" stroke="#000" stroke-width="0.9" fill="none"/><path d="M325.6 647.1v3.1M329.14 647.1v1.7M332.68 647.1v1.7M336.22 647.1v1.7M339.75 647.16v3.1M343.29 647.16v1.7M346.83 647.16v1.7M350.37 647.16v1.7M353.91 647.22v3.1M357.45 647.22v1.7M360.98 647.22v1.7M364.52 647.22v1.7M368.06 647.28v3.1M371.6 647.28v1.7M375.14 647.28v1.7M378.68 647.28v1.7M382.22 647.35v3.1M385.75 647.35v1.7M389.29 647.35v1.7M392.83 647.35v1.7M396.37 647.41v3.1M399.91 647.41v1.7M403.45 647.41v1.7M406.98 647.41v1.7M410.52 647.47v3.1M414.06 647.47v1.7M417.6 647.47v1.7M421.14 647.47v1.7M424.68 647.53v3.1M428.22 647.53v1.7M431.75 647.53v1.7M435.29 647.53v1.7M438.83 647.59v3.1M442.37 647.59v1.7M445.91 647.59v1.7M449.45 647.59v1.7M452.98 647.65v3.1M456.52 647.65v1.7M460.06 647.65v1.7M463.6 647.65v1.7M467.14 647.72v3.1M470.68 647.72v1.7M474.22 647.72v1.7M477.75 647.72v1.7M481.29 647.78v3.1M484.83 647.78v1.7M488.37 647.78v1.7M491.91 647.78v1.7M495.45 647.84v3.1M498.98 647.84v1.7M502.52 647.84v1.7M506.06 647.84v1.7M509.6 647.9v3.1" stroke="#000" stroke-width="1" fill="none"/><path d="M323.1 624.4L507.9 624.6" stroke="#000" stroke-width="1.0" fill="none"/><polyline points="325.6,604.65 382,622.5 396.1,622.5 410.3,617.5 424.75,616 438.75,613.75 453,622.5 467.5,624.4 481.35,624.4 495.8,627.5 509.6,636.4" stroke="#000" stroke-width="1.4" fill="none" stroke-linejoin="round"/><circle cx="325.6" cy="604.65" r="2.45"/><circle cx="382" cy="622.5" r="2.45"/><circle cx="396.1" cy="622.5" r="2.45"/><circle cx="410.3" cy="617.5" r="2.45"/><circle cx="424.75" cy="616" r="2.45"/><circle cx="438.75" cy="613.75" r="2.45"/><circle cx="453" cy="622.5" r="2.45"/><circle cx="467.5" cy="624.4" r="2.45"/><circle cx="481.35" cy="624.4" r="2.45"/><circle cx="495.8" cy="627.5" r="2.45"/><circle cx="509.6" cy="636.4" r="2.45"/><g font-weight="bold" fill="#111"><text transform="translate(321 649) scale(0.610)" font-size="10" text-anchor="end">0</text><text transform="translate(321 637.6) scale(0.610)" font-size="10" text-anchor="end">250</text><text transform="translate(321 626.2) scale(0.610)" font-size="10" text-anchor="end">500</text><text transform="translate(321 614.8) scale(0.610)" font-size="10" text-anchor="end">750</text><text transform="translate(321 603.4) scale(0.610)" font-size="10" text-anchor="end">1000</text><text transform="translate(325.6 657.4) scale(0.610)" font-size="10" text-anchor="middle">0</text><text transform="translate(339.75 657.42) scale(0.610)" font-size="10" text-anchor="middle">1</text><text transform="translate(353.91 657.45) scale(0.610)" font-size="10" text-anchor="middle">2</text><text transform="translate(368.06 657.47) scale(0.610)" font-size="10" text-anchor="middle">3</text><text transform="translate(382.22 657.49) scale(0.610)" font-size="10" text-anchor="middle">4</text><text transform="translate(396.37 657.52) scale(0.610)" font-size="10" text-anchor="middle">5</text><text transform="translate(410.52 657.54) scale(0.610)" font-size="10" text-anchor="middle">6</text><text transform="translate(424.68 657.56) scale(0.610)" font-size="10" text-anchor="middle">7</text><text transform="translate(438.83 657.58) scale(0.610)" font-size="10" text-anchor="middle">8</text><text transform="translate(452.98 657.61) scale(0.610)" font-size="10" text-anchor="middle">9</text><text transform="translate(467.14 657.63) scale(0.610)" font-size="10" text-anchor="middle">10</text><text transform="translate(481.29 657.65) scale(0.610)" font-size="10" text-anchor="middle">11</text><text transform="translate(495.45 657.68) scale(0.610)" font-size="10" text-anchor="middle">12</text><text transform="translate(509.6 657.7) scale(0.610)" font-size="10" text-anchor="middle">13</text></g><text transform="translate(333 598.1) scale(0.860)" font-size="10" text-anchor="start" font-weight="bold">8</text></g>
<g font-weight="bold" stroke="#000" stroke-width="0.45" stroke-linejoin="round"><text transform="translate(0.8 9.3) scale(1.120)" font-size="10" text-anchor="start">A</text><text transform="translate(3.8 583.5) scale(1.120)" font-size="10" text-anchor="start">B</text></g>
<g font-size="8.3" font-weight="bold" stroke="#000" stroke-width="0.25" transform="translate(23.2 0) rotate(-90)">
<text x="-436.3" y="0" textLength="21.1" lengthAdjust="spacingAndGlyphs">CD4+</text>
<text x="-405.2" y="0" textLength="4" lengthAdjust="spacingAndGlyphs">T</text>
<text x="-394.7" y="0" textLength="35" lengthAdjust="spacingAndGlyphs">Cells/µl</text>
<text x="-355.8" y="0" textLength="23.9" lengthAdjust="spacingAndGlyphs">blood</text>
</g>
<g font-size="8.4" font-weight="bold" stroke="#000" stroke-width="0.25">
<text x="196.3" y="676.6" textLength="24.5" lengthAdjust="spacingAndGlyphs">Years</text>
<text x="230" y="676.6" textLength="23.5" lengthAdjust="spacingAndGlyphs">since</text>
<text x="264.3" y="676.6" textLength="69.3" lengthAdjust="spacingAndGlyphs">seroconversion</text>
</g>
</g>
<defs><filter id="soft" x="0" y="0" width="100%" height="100%" filterUnits="userSpaceOnUse"><feGaussianBlur stdDeviation="0.3"/></filter></defs>
</svg>
</body></html>
